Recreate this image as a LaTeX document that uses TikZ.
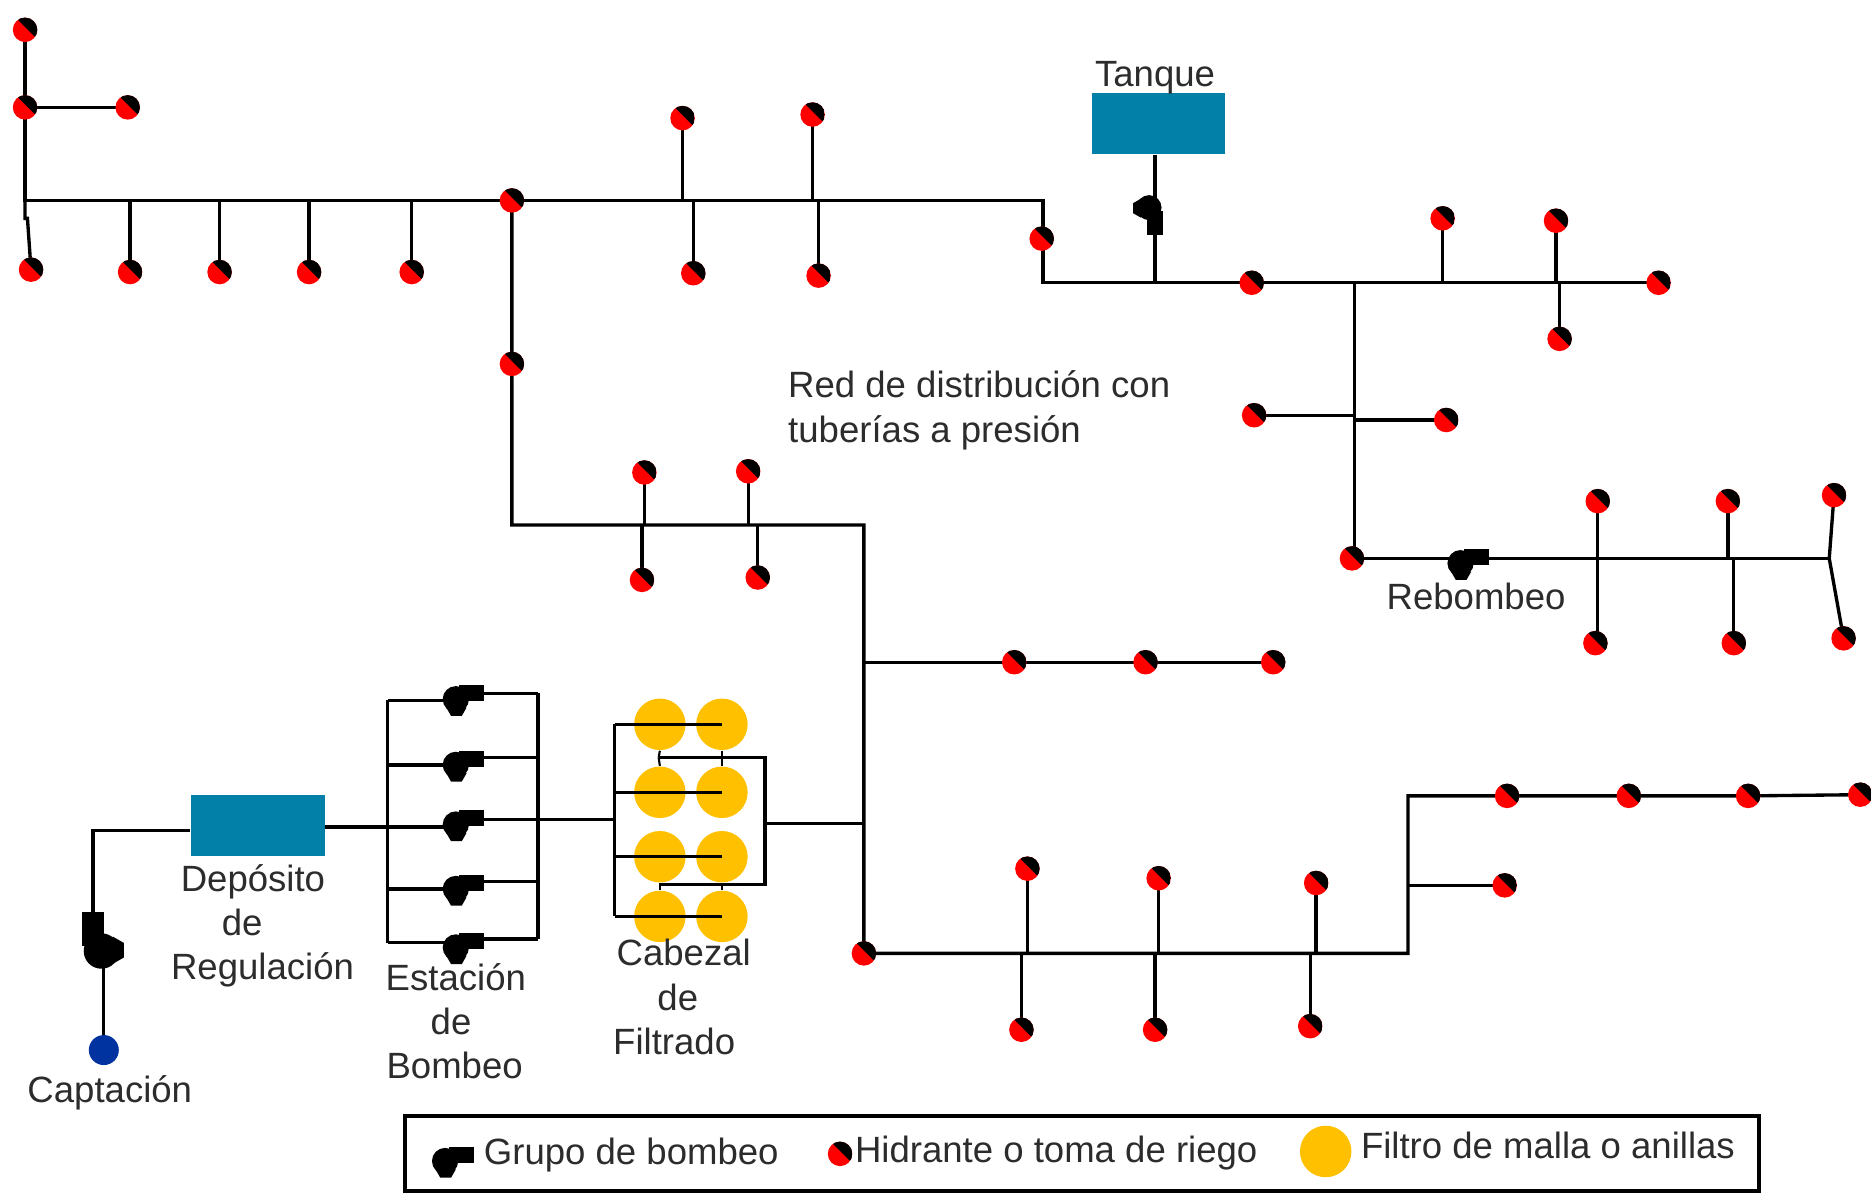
\documentclass[tikz,border=0pt]{standalone}
\usepackage{fontspec}
\setmainfont{Liberation Sans}
\usetikzlibrary{calc}
\pgfdeclarelayer{bg}
\pgfdeclarelayer{mid}
\pgfsetlayers{bg,mid,main}
\definecolor{tankblue}{HTML}{0380A8}
\definecolor{filteryellow}{HTML}{FFC000}
\definecolor{intakeblue}{HTML}{0033A0}
\definecolor{labelgrey}{HTML}{2C2C2C}
\tikzset{
  x=0.011932cm, y=-0.011932cm,
  hyd/.style={circle,fill=red,minimum size=0.245cm,inner sep=0pt,
    path picture={\fill[black] ($(path picture bounding box.north west)!0.12!(path picture bounding box.north east)$)
      -- (path picture bounding box.north east) -- ($(path picture bounding box.south east)!0.12!(path picture bounding box.north east)$) -- cycle;}},
  filt/.style={circle,fill=filteryellow,minimum size=0.515cm,inner sep=0pt},
  tank/.style={rectangle,fill=tankblue,inner sep=0pt,minimum width=1.336cm,minimum height=0.61cm},
  lbl/.style={font=\fontsize{10.4}{12}\selectfont,text=labelgrey,inner sep=0pt},
  pipe/.style={line width=0.95pt,line join=miter},
  pump/.pic={\fill[black] (0,0) circle[radius=11];
    \fill[black] (-8,7) -- (-4,14) -- (5,14) -- (9,7) -- cycle;
    \fill[black] (3,-12) rectangle (24,1.5);}
}
\begin{document}
\begin{tikzpicture}
\useasboundingbox (0,0) rectangle (1568,1007.4);

% tanks
\node[tank] (tanque) at (971,103.5) {};
\node[tank] (deposito) at (216,692) {};

% filters
\begin{pgfonlayer}{bg}
\node[filt] (f1a) at (553,607) {};
\node[filt] (f1b) at (605,607) {};
\node[filt] (f2a) at (553,664) {};
\node[filt] (f2b) at (605,664) {};
\node[filt] (f3a) at (553,718) {};
\node[filt] (f3b) at (605,718) {};
\node[filt] (f4a) at (553,768) {};
\node[filt] (f4b) at (605,768) {};
\end{pgfonlayer}

% hydrants
\node[hyd] (a1) at (21,25) {};
\node[hyd] (a2) at (21,90) {};
\node[hyd] (a3) at (107,90) {};
\node[hyd] (b1) at (26,226) {};
\node[hyd] (b2) at (109,228) {};
\node[hyd] (b3) at (184,228) {};
\node[hyd] (b4) at (259,228) {};
\node[hyd] (b5) at (345,228) {};
\node[hyd] (c1) at (429,168) {};
\node[hyd] (c2) at (429,305) {};
\node[hyd] (d1) at (572,99) {};
\node[hyd] (d2) at (681,96) {};
\node[hyd] (d3) at (581,229) {};
\node[hyd] (d4) at (686,231) {};
\node[hyd] (e1) at (873,200) {};
\node[hyd] (e2) at (1049,237) {};
\node[hyd] (e3) at (1209,183) {};
\node[hyd] (e4) at (1304,185) {};
\node[hyd] (e5) at (1307,284) {};
\node[hyd] (e6) at (1390,237) {};
\node[hyd] (e7) at (1051,348) {};
\node[hyd] (e8) at (1212,352) {};
\node[hyd] (g0) at (1133,468) {};
\node[hyd] (g1) at (1339,420) {};
\node[hyd] (g2) at (1448,420) {};
\node[hyd] (g3) at (1537,415) {};
\node[hyd] (g4) at (1337,539) {};
\node[hyd] (g5) at (1453,539) {};
\node[hyd] (g6) at (1545,535) {};
\node[hyd] (m1) at (540,396) {};
\node[hyd] (m2) at (627,395) {};
\node[hyd] (m3) at (538,486) {};
\node[hyd] (m4) at (635,484) {};
\node[hyd] (n1) at (850,555) {};
\node[hyd] (n2) at (960,555) {};
\node[hyd] (n3) at (1067,555) {};
\node[hyd] (p0) at (724,799) {};
\node[hyd] (p1) at (861,728) {};
\node[hyd] (p2) at (971,736) {};
\node[hyd] (p3) at (1103,740) {};
\node[hyd] (p4) at (856,863) {};
\node[hyd] (p5) at (968,863) {};
\node[hyd] (p6) at (1098,860) {};
\node[hyd] (q1) at (1263,667) {};
\node[hyd] (q2) at (1365,667) {};
\node[hyd] (q3) at (1465,667) {};
\node[hyd] (q4) at (1559,666) {};
\node[hyd] (q5) at (1261,742) {};

% intake
\node[circle,fill=intakeblue,minimum size=0.3cm,inner sep=0pt] (capt) at (87,880) {};

% pumps
\pic at (382,586) {pump};
\pic at (382,641) {pump};
\pic at (382,691) {pump};
\pic at (382,745) {pump};
\pic at (382,794) {pump};
\pic at (1224,472) {pump};
\pic[rotate=-90,scale=0.95] at (963,174) {pump};
\pic[rotate=90,scale=1.35] at (85,797) {pump};

% junctions
\coordinate (top) at (21,168);
\coordinate (jb2) at (109,168);
\coordinate (jb3) at (184,168);
\coordinate (jb4) at (259,168);
\coordinate (jb5) at (345,168);
\coordinate (jd1) at (572,168);
\coordinate (jd2) at (681,168);
\coordinate (jd3) at (581,168);
\coordinate (jd4) at (686,168);
\coordinate (bend1) at (874,168);
\coordinate (bend2) at (874,237);
\coordinate (jtank) at (968,237);
\coordinate (je3) at (1209,237);
\coordinate (je4) at (1304,237);
\coordinate (jvert) at (1135,237);
\coordinate (jr1) at (1135,348);
\coordinate (jr2) at (1135,352);
\coordinate (jg0) at (1135,468);
\coordinate (jg1) at (1339,468);
\coordinate (jg2) at (1448,468);
\coordinate (jg3) at (1453,468);
\coordinate (jgend) at (1533,468);
\coordinate (bend3) at (429,440);
\coordinate (bend4) at (724,440);
\coordinate (jm1) at (540,440);
\coordinate (jm3) at (538,440);
\coordinate (jm2) at (627,440);
\coordinate (jm4) at (635,440);
\coordinate (jn) at (724,555);
\coordinate (jfilt) at (724,690);
\coordinate (jp1) at (861,799);
\coordinate (jp4) at (856,799);
\coordinate (jp2) at (971,799);
\coordinate (jp5) at (968,799);
\coordinate (jp3) at (1103,799);
\coordinate (jp6) at (1098,799);
\coordinate (bend5) at (1180,799);
\coordinate (bend6) at (1180,667);
\coordinate (jq5) at (1180,742);
\coordinate (capbend) at (78,696);
\coordinate (cappump) at (78,770);
\coordinate (capup) at (87,805);
% pump station rails
\coordinate (sl1) at (325,587);
\coordinate (sl2) at (325,641);
\coordinate (sl3) at (325,693);
\coordinate (sl4) at (325,745);
\coordinate (sl5) at (325,790);
\coordinate (sr1) at (451,581);
\coordinate (sr2) at (451,635);
\coordinate (sr3) at (451,687);
\coordinate (sr4) at (451,739);
\coordinate (sr5) at (451,787);
\coordinate (pm1) at (390,587);
\coordinate (pm2) at (390,641);
\coordinate (pm3) at (390,693);
\coordinate (pm4) at (390,745);
\coordinate (pm5) at (390,790);
\coordinate (pr1) at (390,581);
\coordinate (pr2) at (390,635);
\coordinate (pr3) at (390,687);
\coordinate (pr4) at (390,739);
\coordinate (pr5) at (390,787);
% filter head
\coordinate (fl1) at (515,607);
\coordinate (fl2) at (515,664);
\coordinate (fl3) at (515,688);
\coordinate (fl4) at (515,718);
\coordinate (fl5) at (515,768);
\coordinate (fr1) at (641,635);
\coordinate (fr2) at (641,690);
\coordinate (fr3) at (641,741);
\coordinate (fm1) at (552,635);
\coordinate (fm2) at (552,741);

\begin{pgfonlayer}{mid}
% upper network
\draw[pipe] (a1.center) -- (a2.center) -- (top) -- (jb2) -- (jb3) -- (jb4) -- (jb5) -- (c1.center) -- (bend1) -- (bend2) -- (jtank) -- (e2.center) -- (jvert) -- (je3) -- (je4) -- (e6.center);
\draw[pipe] (a2.center) -- (a3.center);
\draw[pipe] (top) -- ++(0,15) -- ++(2,0) -- (b1.center);
\draw[pipe] (jb2) -- (b2.center);
\draw[pipe] (jb3) -- (b3.center);
\draw[pipe] (jb4) -- (b4.center);
\draw[pipe] (jb5) -- (b5.center);
\draw[pipe] (d1.center) -- (jd1);
\draw[pipe] (d2.center) -- (jd2);
\draw[pipe] (jd3) -- (d3.center);
\draw[pipe] (jd4) -- (d4.center);
\draw[pipe] (tanque.south -| jtank) -- (jtank);
\draw[pipe] (e3.center) -- (je3);
\draw[pipe] (e4.center) -- (je4);
\draw[pipe] (je4) -- ++(3,0) -- (e5.center);
\draw[pipe] (jvert) -- (jg0);
\draw[pipe] (e7.center) -- (jr1);
\draw[pipe] (jr2) -- (e8.center);
\draw[pipe] (g0.center) -- (jg1) -- (jg2) -- (jg3) -- (jgend);
\draw[pipe] (g1.center) -- (g1 |- g4.center) -- (g4.center);
\draw[pipe] (g2.center) -- (jg2);
\draw[pipe] (jg3) -- (g5.center);
\draw[pipe] (g3.center) -- (jgend) -- (g6.center);
% middle and lower network
\draw[pipe] (c1.center) -- (c2.center) -- (bend3) -- (bend4) -- (jn) -- (jfilt) -- (p0.center) -- (bend5) -- (bend6) -- (q1.center) -- (q2.center) -- (q3.center) -- (q4.center);
\draw[pipe] (m1.center) -- (jm1);
\draw[pipe] (jm3) -- (m3.center);
\draw[pipe] (m2.center) -- (jm2);
\draw[pipe] (jm4) -- (m4.center);
\draw[pipe] (jn) -- (n1.center) -- (n2.center) -- (n3.center);
\draw[pipe] (p1.center) -- (jp1);
\draw[pipe] (jp4) -- (p4.center);
\draw[pipe] (p2.center) -- (jp2);
\draw[pipe] (jp5) -- (p5.center);
\draw[pipe] (p3.center) -- (jp3);
\draw[pipe] (jp6) -- (p6.center);
\draw[pipe] (jq5) -- (q5.center);
% intake side
\draw[pipe] (capt.center) -- (capup);
\draw[pipe] (cappump) -- (capbend) -- (deposito.west |- capbend);
\draw[pipe] (deposito.east |- sl3) -- (sl3);
% pump station
\draw[pipe] (sl1) -- (sl2) -- (sl3) -- (sl4) -- (sl5);
\draw[pipe] (sr1) -- (sr2) -- (sr3) -- (sr4) -- (sr5);
\draw[pipe] (sl1) -- (pm1);
\draw[pipe] (sl2) -- (pm2);
\draw[pipe] (sl3) -- (pm3);
\draw[pipe] (sl4) -- (pm4);
\draw[pipe] (sl5) -- (pm5);
\draw[pipe] (pr1) -- (sr1);
\draw[pipe] (pr2) -- (sr2);
\draw[pipe] (pr3) -- (sr3);
\draw[pipe] (pr4) -- (sr4);
\draw[pipe] (pr5) -- (sr5);
\draw[pipe] (sr3) -- (sr3 -| fl3) -- (fl3);
% filter head
\draw[pipe] (fl1) -- (fl2) -- (fl3) -- (fl4) -- (fl5);
\draw[pipe] (fl1) -- (f1b.center);
\draw[pipe] (fl2) -- (f2b.center);
\draw[pipe] (fl4) -- (f3b.center);
\draw[pipe] (fl5) -- (f4b.center);
\draw[pipe] (fm1) -- (fr1) -- (fr2) -- (fr3) -- (fm2);
\draw[pipe,line width=0.6pt] (f1a.south) -- (fm1);
\draw[pipe,line width=0.6pt] (fm1) -- (f2a.north);
\draw[pipe,line width=0.6pt] (f1b.south) -- (f2b.north);
\draw[pipe,line width=0.6pt] (f3a.south) -- (f4a.north);
\draw[pipe,line width=0.6pt] (f3b.south) -- (f4b.north);
\draw[pipe] (fr2) -- (jfilt);
\end{pgfonlayer}

% labels
\node[lbl] (ltank) at (968,65) {Tanque};
\node[lbl,anchor=west] (lred1) at (660,322) {Red de distribución con};
\node[lbl,anchor=west] (lred2) at (660,363) {tuberías a presión};
\node[lbl] (lreb) at (1237,500) {Rebombeo};
\node[lbl] (ldep1) at (212,739) {Depósito};
\node[lbl] (ldep2) at (203,773) {de};
\node[lbl] (ldep3) at (220,813) {Regulación};
\node[lbl] (lest1) at (382,819) {Estación};
\node[lbl] (lest2) at (378,856) {de};
\node[lbl] (lest3) at (381,893) {Bombeo};
\node[lbl] (lcab1) at (573,798) {Cabezal};
\node[lbl] (lcab2) at (568,836) {de};
\node[lbl] (lcab3) at (565,873) {Filtrado};
\node[lbl] (lcap) at (92,916) {Captación};

% legend
\node[draw=black,line width=1.1pt,fill=none,inner sep=0pt,minimum width=13.54cm,minimum height=0.752cm] (legend) at (906.5,966.5) {};
\pic at (373,973) {pump};
\node[lbl,anchor=west] (lg1) at (405,968) {Grupo de bombeo};
\node[hyd] (lgh) at (704,967) {};
\node[lbl,anchor=west] (lg2) at (716,966) {Hidrante o toma de riego};
\node[filt] (lgf) at (1111,965) {};
\node[lbl,anchor=west] (lg3) at (1140,960) {Filtro de malla o anillas};
\end{tikzpicture}
\end{document}
